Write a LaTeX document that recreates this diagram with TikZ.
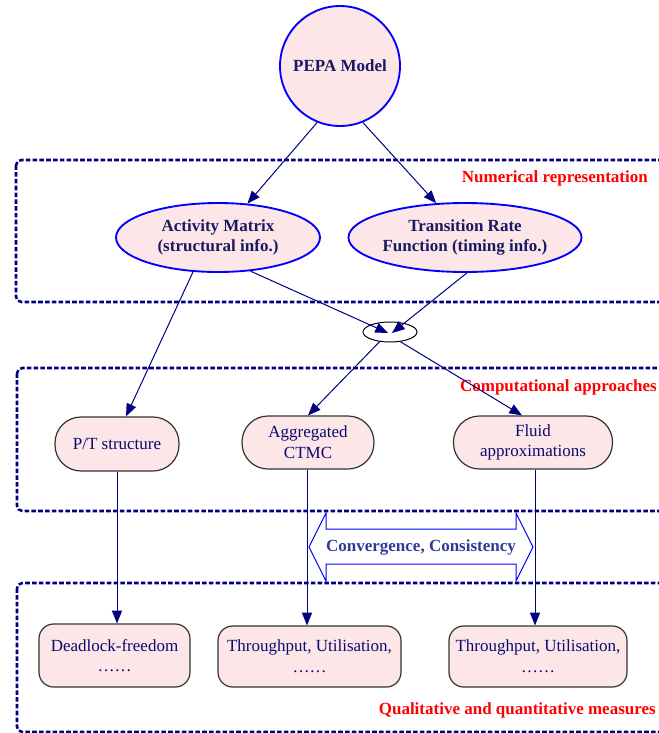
\documentclass[tikz,border=0pt]{standalone}
\usepackage{fontspec}
\setmainfont{Liberation Serif}
\usetikzlibrary{shapes.geometric,arrows.meta,calc}
\definecolor{navyline}{RGB}{0,0,128}
\definecolor{boxnavy}{RGB}{10,10,110}
\definecolor{headnavy}{RGB}{25,25,100}
\definecolor{pinkbg}{RGB}{252,230,232}
\definecolor{convtext}{RGB}{55,55,150}
\tikzset{
  groupbox/.style={draw=navyline, line width=1.9pt, dash pattern=on 3.4pt off 1.7pt, rounded corners=4pt},
  grouplabel/.style={text=red, font=\fontsize{12.75}{15.5}\selectfont\bfseries, inner sep=0pt},
  bluenode/.style={draw=blue, line width=1.4pt, fill=pinkbg, text=headnavy, font=\fontsize{12.75}{15}\selectfont\bfseries, align=center, inner sep=0pt},
  pill/.style={draw=black!80, line width=0.9pt, fill=pinkbg, rounded corners=19.5pt, text=boxnavy, align=center, inner sep=0pt},
  resultbox/.style={draw=black!80, line width=0.9pt, fill=pinkbg, rounded corners=11pt, text=boxnavy, align=center, inner sep=0pt},
  conn/.style={draw=navyline, line width=0.75pt, -{Triangle[length=9.5pt,width=7.5pt]}},
}
\begin{document}
\begin{tikzpicture}[x=0.75pt,y=-0.75pt, font=\fontsize{12.75}{15.5}\selectfont]
\useasboundingbox (0,0) rectangle (659,733);
\clip (0,0) rectangle (659,733);

% group boxes
\draw[groupbox] (16,160) rectangle (690,302);
\draw[groupbox] (17,368) rectangle (690,511);
\draw[groupbox] (17,583) rectangle (690,732);

\node[grouplabel, anchor=east] (lnum) at (648,178) {Numerical representation};
\node[grouplabel, anchor=east] (lcomp) at (657,387) {Computational approaches};
\node[grouplabel, anchor=east] (lqual) at (656,710) {Qualitative and quantitative measures};

% nodes
\node[bluenode, circle, minimum size=90pt] (pepa) at (340,66) {PEPA Model};
\node[bluenode, ellipse, minimum width=153pt, minimum height=51.75pt] (am) at (218,237.5) {Activity Matrix\\(structural info.)};
\node[bluenode, ellipse, minimum width=145.5pt, minimum height=51.75pt] (trf) at (465,237.5) {Transition Rate\\Function (timing info.)};
\node[draw=black, line width=0.75pt, ellipse, minimum width=40.5pt, minimum height=15pt, inner sep=0pt] (junc) at (390,332) {};

\node[pill, minimum width=93pt, minimum height=40.5pt] (pt) at (117,444) {P/T structure};
\node[pill, minimum width=99pt, minimum height=39.75pt] (agg) at (308,442.5) {Aggregated\\CTMC};
\node[pill, minimum width=119.25pt, minimum height=39.75pt] (fluid) at (533,442.5) {Fluid\\approximations};

\node[resultbox, minimum width=113.25pt, minimum height=47.25pt] (dl) at (114.5,655.5) {Deadlock-freedom\\\ldots\ldots};
\node[resultbox, minimum width=137.25pt, minimum height=45.75pt] (tp1) at (309.5,656.5) {Throughput, Utilisation,\\\ldots\ldots};
\node[resultbox, minimum width=133.5pt, minimum height=45.75pt] (tp2) at (538,656.5) {Throughput, Utilisation,\\\ldots\ldots};

% connectors
\draw[conn] (pepa.-112) -- (am.49);
\draw[conn] (pepa.-68) -- (trf.130);
\draw[conn] (am.-46) -- ($(junc.center)+(-2,1)$);
\draw[conn] (trf.-87) -- ($(junc.center)+(2,1)$);
\draw[conn] (am.-126) -- ($(pt.north)+(9,0)$);
\draw[conn] (junc.-137) -- (agg.north);
\draw[conn] (junc.-43) -- ($(fluid.north)+(-11,0)$);
\draw[conn] (pt.south) -- (pt.south |- dl.north);
\draw[conn] ($(agg.south)+(-1,0)$) -- ($(agg.south |- tp1.north)+(-1,0)$);
\draw[conn] ($(fluid.south)+(2,0)$) -- ($(fluid.south |- tp2.north)+(2,0)$);

% double arrow
\node[text=convtext, font=\fontsize{12.75}{15.5}\selectfont\bfseries, inner sep=0pt] (conv) at (421,547) {Convergence, Consistency};
\draw[draw=blue, line width=0.75pt, line join=miter]
  ($(conv)+(-112,0)$) -- ($(conv)+(-95,-34)$) -- ($(conv)+(-95,-18)$) -- ($(conv)+(95,-18)$)
  -- ($(conv)+(95,-34)$) -- ($(conv)+(112,0)$) -- ($(conv)+(95,34)$) -- ($(conv)+(95,17)$)
  -- ($(conv)+(-95,17)$) -- ($(conv)+(-95,34)$) -- cycle;
\end{tikzpicture}
\end{document}
